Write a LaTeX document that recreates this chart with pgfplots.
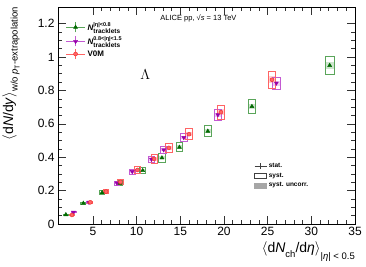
\documentclass[border=0pt]{standalone}
\usepackage{pgfplots}
\usepackage{pgfplotstable}
\pgfplotsset{compat=1.18}
\usepackage{fontspec}
\setmainfont{Liberation Sans}

\definecolor{dgreen}{RGB}{0,105,0}
\definecolor{lgreen}{RGB}{90,165,90}
\definecolor{dmag}{RGB}{150,0,170}
\definecolor{lmag}{RGB}{195,90,210}
\definecolor{dred}{RGB}{240,40,40}
\definecolor{lred}{RGB}{255,100,100}

\pgfdeclareplotmark{sysbox}{\pgfpathrectanglecorners{\pgfpoint{-\exs pt}{-\eys pt}}{\pgfpoint{\exs pt}{\eys pt}}\pgfusepathqstroke}
\pgfdeclareplotmark{uncbox}{\pgfpathrectanglecorners{\pgfpoint{-\exs pt}{-\eyu pt}}{\pgfpoint{\exs pt}{\eyu pt}}\pgfusepathqfill}

\pgfplotstableread{
x y ey ex
1.9 0.056 0.0035 0.26
3.9 0.124 0.0075 0.28
6.05 0.188 0.011 0.30
8.1 0.244 0.015 0.31
10.7 0.320 0.019 0.33
12.9 0.396 0.024 0.35
14.9 0.460 0.028 0.37
18.15 0.556 0.034 0.40
23.2 0.704 0.041 0.43
32.1 0.950 0.054 0.50
}\tgreen

\pgfplotstableread{
x y ey ex
2.78 0.070 0.0035 0.27
4.55 0.130 0.0065 0.28
7.74 0.246 0.012 0.31
9.5 0.314 0.015 0.33
11.7 0.388 0.019 0.35
13.1 0.444 0.022 0.36
15.4 0.518 0.025 0.38
19.3 0.654 0.031 0.41
26.0 0.844 0.037 0.42
}\tmag

\pgfplotstableread{
x y ey ex
2.6 0.054 0.0035 0.27
4.7 0.130 0.008 0.28
6.5 0.194 0.012 0.30
8.15 0.252 0.016 0.31
10.1 0.324 0.020 0.33
12.0 0.390 0.024 0.35
13.7 0.456 0.028 0.36
16.0 0.538 0.033 0.38
19.65 0.670 0.041 0.41
25.5 0.864 0.052 0.42
}\tred

\pgfplotsset{
  boxes/.style={scatter, only marks, forget plot,
    scatter/@pre marker code/.code={},
    scatter/@post marker code/.code={},
    visualization depends on={\thisrow{ex}*8.7353 \as \exs},
    visualization depends on={\thisrow{ey}*166.92 \as \eys},
    visualization depends on={\thisrow{ey}*0.4*166.92 \as \eyu}},
}

\newcommand{\Ntr}[1]{\textit{N}\rlap{\raisebox{1.1ex}{\fontsize{5.5}{6}\selectfont #1}}\raisebox{-0.7ex}{\fontsize{6.5}{7}\selectfont tracklets}}

\begin{document}
\begin{tikzpicture}
\useasboundingbox (-58pt,-43pt) rectangle (308pt,224pt);
\begin{axis}[
  at={(0,0)}, anchor=south west,
  scale only axis, width=297pt, height=217pt,
  xmin=1, xmax=35, ymin=0, ymax=1.3,
  xtick={5,10,15,20,25,30,35}, xticklabels={5,10,15,20,25,30,35},
  ytick={0,0.2,0.4,0.6,0.8,1,1.2}, yticklabels={0,0.2,0.4,0.6,0.8,1,1.2},
  minor x tick num=4, minor y tick num=3,
  tick align=inside, major tick length=8pt, minor tick length=4pt,
  every tick/.style={black!80, line width=0.6pt},
  axis line style={line width=0.8pt},
  /pgf/number format/assume math mode=true,
  tick label style={font=\fontsize{12}{12}\selectfont},
  every axis y label/.style={at={(axis description cs:-0.188,1.0)}, anchor=north east, rotate=90, inner sep=0pt, font=\fontsize{14}{14}\selectfont},
  every axis x label/.style={at={(axis description cs:1.0,-0.082)}, anchor=north east, inner sep=0pt, font=\fontsize{14}{14}\selectfont},
  ylabel={$\langle$d\textit{N}/d\textit{y}$\rangle$\raisebox{-0.6ex}{\fontsize{9.5}{10}\selectfont w/o \textit{p}\raisebox{-0.4ex}{\fontsize{7}{7}\selectfont T}-extrapolation}},
  xlabel={$\langle$d\textit{N}\raisebox{-0.6ex}{\fontsize{9.5}{10}\selectfont ch}/d\textit{η}$\rangle$\raisebox{-0.9ex}{\fontsize{9.5}{10}\selectfont |\textit{η}| < 0.5}},
  legend style={at={(axis description cs:0.025,0.94)}, anchor=north west, draw=none, fill=none, font=\fontsize{8}{8}\selectfont\bfseries, row sep=0pt, inner sep=0pt},
  legend cell align=left,
]
% uncorrelated (inner) boxes
\addplot[boxes, color=lgreen!30, mark=uncbox] table[x=x,y=y] {\tgreen};
\addplot[boxes, color=lmag!30, mark=uncbox] table[x=x,y=y] {\tmag};
\addplot[boxes, color=lred!30, mark=uncbox] table[x=x,y=y] {\tred};
% systematic boxes
\addplot[boxes, color=lgreen, mark=sysbox, mark options={line width=0.8pt}] table[x=x,y=y] {\tgreen};
\addplot[boxes, color=lmag, mark=sysbox, mark options={line width=0.8pt}] table[x=x,y=y] {\tmag};
\addplot[boxes, color=lred, mark=sysbox, mark options={line width=0.8pt}] table[x=x,y=y] {\tred};
% markers
\addplot[only marks, forget plot, mark=triangle*, mark size=2.3pt, color=dgreen] table[x=x,y=y] {\tgreen};
\addplot[only marks, forget plot, mark=triangle*, mark size=2.3pt, color=dmag, mark options={rotate=180}] table[x=x,y=y] {\tmag};
\addplot[only marks, forget plot, mark=*, mark size=2pt, color=dred, mark options={fill=lred}] table[x=x,y=y] {\tred};

\addlegendimage{legend image code/.code={
  \draw[lgreen, line width=0.9pt] (0pt,0pt) -- (19pt,0pt) (9.5pt,-5pt) -- (9.5pt,5pt);
  \draw[dgreen, fill=dgreen] plot[only marks, mark=triangle*, mark size=2.3pt] coordinates {(9.5pt,0pt)};}}
\addlegendentry{\Ntr{|η|<0.8}}
\addlegendimage{legend image code/.code={
  \draw[lmag, line width=0.9pt] (0pt,0pt) -- (19pt,0pt) (9.5pt,-5pt) -- (9.5pt,5pt);
  \draw[dmag, fill=dmag] plot[only marks, mark=triangle*, mark size=2.3pt, mark options={rotate=180}] coordinates {(9.5pt,0pt)};}}
\addlegendentry{\Ntr{0.8<|η|<1.5}}
\addlegendimage{legend image code/.code={
  \draw[lred, line width=0.9pt] (0pt,0pt) -- (19pt,0pt) (9.5pt,-5pt) -- (9.5pt,5pt);
  \draw[dred, fill=lred] plot[only marks, mark=*, mark size=2pt] coordinates {(9.5pt,0pt)};}}
\addlegendentry{V0M}

\node[anchor=west, font=\fontsize{7.5}{8}\selectfont] at (axis description cs:0.333,0.949) {ALICE pp, √\textit{s} = 13 TeV};
\node[font=\fontsize{15}{15}\selectfont] at (axis cs:11,0.893) {$\Lambda$};
\end{axis}

\begin{axis}[
  at={(0,0)}, anchor=south west,
  scale only axis, width=297pt, height=217pt, hide axis,
  xmin=0, xmax=1, ymin=0, ymax=1,
  legend style={at={(axis description cs:0.66,0.29)}, anchor=north west, draw=none, fill=none, font=\fontsize{6.5}{6.5}\selectfont\bfseries, row sep=0pt, inner sep=0pt},
  legend cell align=left,
]
\addlegendimage{legend image code/.code={\draw[black!75, line width=0.6pt] (0pt,0pt)--(12pt,0pt) (6pt,-3pt)--(6pt,3pt);}}
\addlegendentry{stat.}
\addlegendimage{legend image code/.code={\draw[black!75, line width=0.6pt] (0pt,-2.5pt) rectangle (12pt,2.5pt);}}
\addlegendentry{syst.}
\addlegendimage{legend image code/.code={\fill[black!35] (0pt,-2.8pt) rectangle (12pt,2.8pt);}}
\addlegendentry{syst. uncorr.}
\end{axis}
\end{tikzpicture}
\end{document}
